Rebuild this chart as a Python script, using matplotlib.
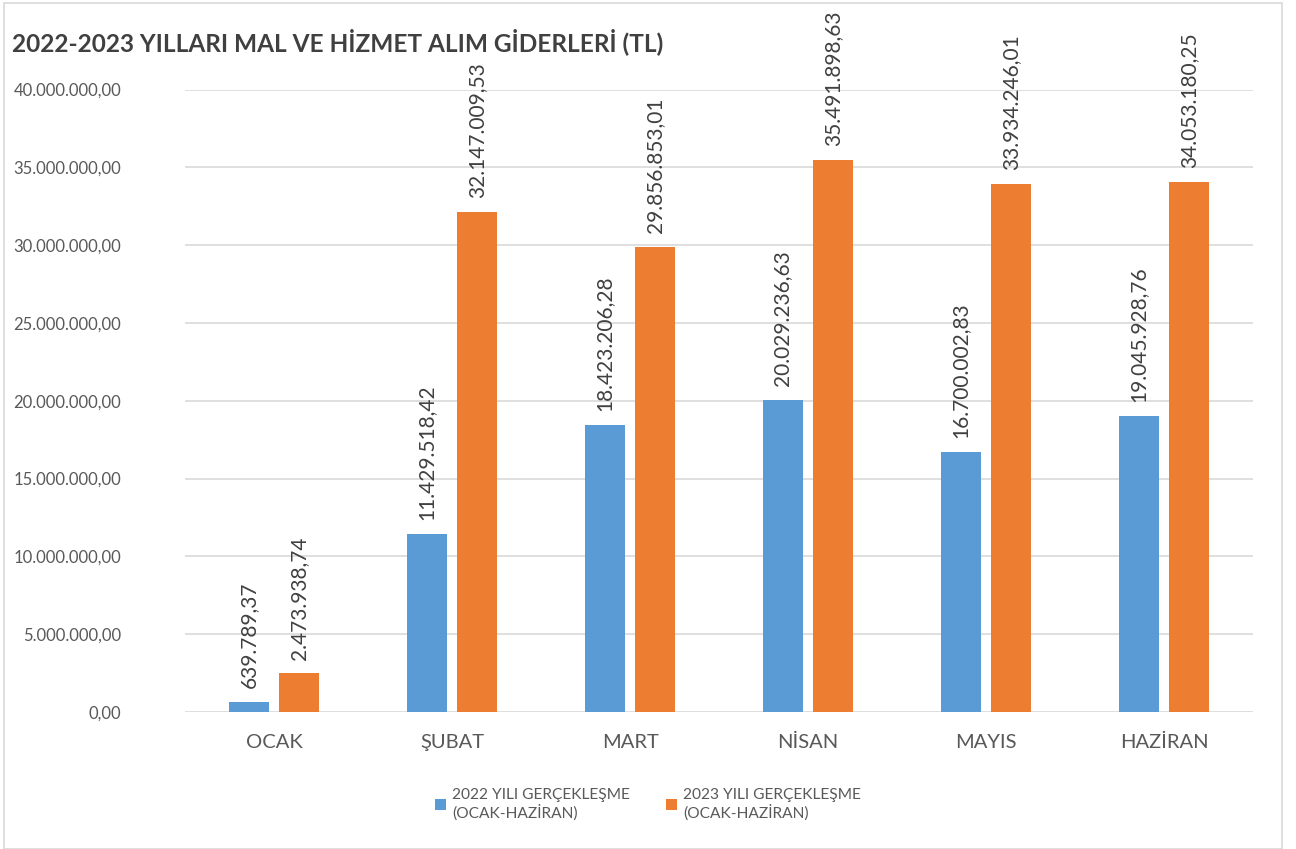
import matplotlib
matplotlib.use('Agg')
import matplotlib.pyplot as plt
import numpy as np
from matplotlib.patches import Rectangle

plt.rcParams['font.family'] = ['Lato', 'DejaVu Sans']

months = ['OCAK', 'ŞUBAT', 'MART', 'NİSAN', 'MAYIS', 'HAZİRAN']
y2022 = [639789.37, 11429518.42, 18423206.28, 20029236.63, 16700002.83, 19045928.76]
y2023 = [2473938.74, 32147009.53, 29856853.01, 35491898.63, 33934246.01, 34053180.25]
labels = ['2022 YILI GERÇEKLEŞME\n(OCAK-HAZİRAN)', '2023 YILI GERÇEKLEŞME\n(OCAK-HAZİRAN)']
title = '2022-2023 YILLARI MAL VE HİZMET ALIM GİDERLERİ (TL)'

c_blue = '#5b9bd5'
c_orange = '#ed7d31'
grid_c = '#d9d9d9'
txt_c = '#595959'


def tr_fmt(v):
    # turkish number format: 1.234.567,89
    s = '{:,.2f}'.format(v)
    return s.replace(',', 'X').replace('.', ',').replace('X', '.')


fig = plt.figure(figsize=(12.96, 8.49), dpi=100)
ax = fig.add_axes([185/1296, 1-712/849, (1253-185)/1296, (712-89.5)/849])

x = np.arange(len(months))
bw = 0.225
off = 0.143
b1 = ax.bar(x - off, y2022, bw, color=c_blue, label=labels[0], zorder=3)
b2 = ax.bar(x + off, y2023, bw, color=c_orange, label=labels[1], zorder=3)

for bars, vals in [(b1, y2022), (b2, y2023)]:
    for r, v in zip(bars, vals):
        ax.annotate(tr_fmt(v), (r.get_x() + r.get_width()/2, v),
                    xytext=(0, 10), textcoords='offset points',
                    rotation=90, ha='center', va='bottom',
                    fontsize=15, color='#404040', zorder=4,
                    annotation_clip=False)

ax.set_xlim(-0.5, 5.5)
ax.set_ylim(0, 40000000)
yt = np.arange(0, 40000001, 5000000)
ax.set_yticks(yt)
ax.set_yticklabels([tr_fmt(v) for v in yt], fontsize=12, color=txt_c)
ax.set_xticks(x)
ax.set_xticklabels(months, fontsize=14.5, color=txt_c)
ax.tick_params(axis='y', length=0, pad=46)
ax.tick_params(axis='x', length=0, pad=16)
ax.grid(axis='y', color=grid_c, linewidth=1.2, zorder=0)
for s in ax.spines.values():
    s.set_visible(False)

fig.text(12/1296, 1-42/849, title, fontsize=17.6, fontweight='bold',
         color='#404040', ha='left', va='center')

leg = fig.legend(loc='center', bbox_to_anchor=(0.5, 1-804/849), ncol=2,
                 frameon=False, fontsize=11.2, handlelength=0.7, handleheight=0.7,
                 handletextpad=0.4, columnspacing=2.3)
for t in leg.get_texts():
    t.set_color(txt_c)

fig.patches.append(Rectangle((4/1296, 0), (1282-4)/1296, 1-3/849, transform=fig.transFigure,
                             fill=False, edgecolor=grid_c, linewidth=1.2))

fig.savefig('out.png', dpi=100)
